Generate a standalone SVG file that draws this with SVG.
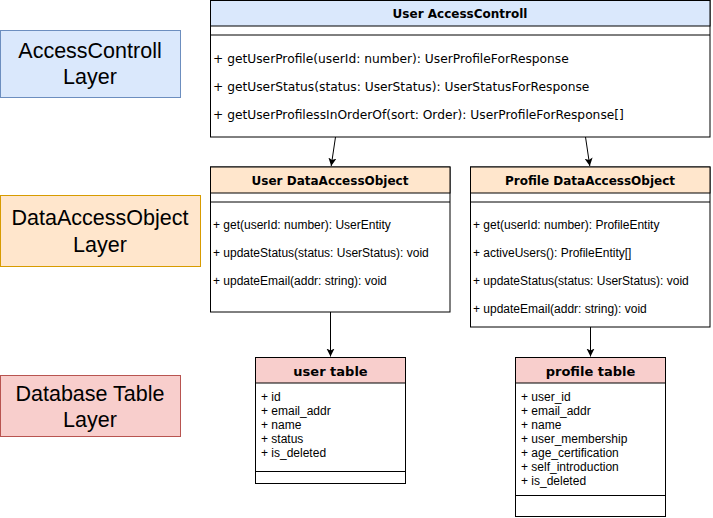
<svg xmlns="http://www.w3.org/2000/svg" width="713" height="518" viewBox="0 0 713 518">
<style>
.box{fill:#ffffff;stroke:#000000;stroke-width:1}
.ln{stroke:#000000;stroke-width:1;fill:none}
.hb{fill:#dae8fc;stroke:#000000;stroke-width:1}
.ho{fill:#ffe6cc;stroke:#000000;stroke-width:1}
.hr{fill:#f8cecc;stroke:#000000;stroke-width:1}
.ttl{font-family:"DejaVu Sans",Verdana,sans-serif;font-weight:bold;font-size:12px;fill:#000;text-anchor:middle}
.ttl13{font-family:"DejaVu Sans",Verdana,sans-serif;font-weight:bold;font-size:13px;fill:#000;text-anchor:middle}
.mv{font-family:"DejaVu Sans",Verdana,sans-serif;font-size:12.25px;fill:#000}
.mh{font-family:"Liberation Sans",Arial,sans-serif;font-size:12px;fill:#000}
.lay{font-family:"Liberation Sans",Arial,sans-serif;font-size:21.5px;fill:#000;text-anchor:middle}
.con{stroke:#000;stroke-width:1;fill:none;marker-end:url(#arr)}
</style>
<defs>
<marker id="arr" markerUnits="userSpaceOnUse" markerWidth="10" markerHeight="10" refX="8" refY="4" orient="auto">
<path d="M0,0 L8,4 L0,8 L2,4 z" fill="#000"/>
</marker>
</defs>
<rect width="713" height="518" fill="#ffffff"/>

<g id="layer-access">
<rect x="0.5" y="30.5" width="180" height="67" fill="#dae8fc" stroke="#6c8ebf"/>
<text class="lay" x="90" y="58">AccessControll</text>
<text class="lay" x="90" y="84">Layer</text>
</g>
<g id="layer-dao">
<rect x="0.5" y="195.5" width="200" height="71" fill="#ffe6cc" stroke="#d79b00"/>
<text class="lay" x="100" y="225">DataAccessObject</text>
<text class="lay" x="100" y="251.5">Layer</text>
</g>
<g id="layer-db">
<rect x="0.5" y="375.5" width="180" height="61" fill="#f8cecc" stroke="#b85450"/>
<text class="lay" x="90" y="400.5">Database Table</text>
<text class="lay" x="90" y="427">Layer</text>
</g>

<g id="user-accesscontroll">
<rect class="box" x="210.5" y="0.5" width="499.5" height="136.5"/>
<rect class="hb" x="210.5" y="0.5" width="499.5" height="25.5"/>
<line class="ln" x1="210.5" y1="35" x2="710" y2="35"/>
<text class="ttl" x="460" y="17.5">User AccessControll</text>
<text class="mv" x="213" y="63">+ getUserProfile(userId: number): UserProfileForResponse</text>
<text class="mv" x="213" y="91">+ getUserStatus(status: UserStatus): UserStatusForResponse</text>
<text class="mv" x="213" y="119">+ getUserProfilessInOrderOf(sort: Order): UserProfileForResponse[]</text>
</g>

<g id="user-dao">
<rect class="box" x="210.5" y="167" width="239.5" height="145"/>
<rect class="ho" x="210.5" y="167" width="239.5" height="26"/>
<line class="ln" x1="210.5" y1="202" x2="450" y2="202"/>
<text class="ttl" x="330" y="185">User DataAccessObject</text>
<text class="mh" x="213" y="228.5">+ get(userId: number): UserEntity</text>
<text class="mh" x="213" y="256.5">+ updateStatus(status: UserStatus): void</text>
<text class="mh" x="213" y="284.5">+ updateEmail(addr: string): void</text>
</g>

<g id="profile-dao">
<rect class="box" x="470.5" y="167" width="239.5" height="160"/>
<rect class="ho" x="470.5" y="167" width="239.5" height="26"/>
<line class="ln" x1="470.5" y1="202" x2="710" y2="202"/>
<text class="ttl" x="590" y="185">Profile DataAccessObject</text>
<text class="mh" x="473" y="228.5">+ get(userId: number): ProfileEntity</text>
<text class="mh" x="473" y="256.5">+ activeUsers(): ProfileEntity[]</text>
<text class="mh" x="473" y="284.5">+ updateStatus(status: UserStatus): void</text>
<text class="mh" x="473" y="312.5">+ updateEmail(addr: string): void</text>
</g>

<g id="user-table">
<rect class="box" x="255.5" y="357.5" width="150" height="126"/>
<rect class="hr" x="255.5" y="357.5" width="150" height="25.5"/>
<line class="ln" x1="255.5" y1="471.5" x2="405.5" y2="471.5"/>
<text class="ttl13" x="330.5" y="375.5">user table</text>
<text class="mh" x="261" y="401">+ id</text>
<text class="mh" x="261" y="415">+ email_addr</text>
<text class="mh" x="261" y="429">+ name</text>
<text class="mh" x="261" y="443">+ status</text>
<text class="mh" x="261" y="457">+ is_deleted</text>
</g>

<g id="profile-table">
<rect class="box" x="515.5" y="357.5" width="150" height="159"/>
<rect class="hr" x="515.5" y="357.5" width="150" height="25.5"/>
<line class="ln" x1="515.5" y1="495.5" x2="665.5" y2="495.5"/>
<text class="ttl13" x="590.5" y="375.5">profile table</text>
<text class="mh" x="521" y="401">+ user_id</text>
<text class="mh" x="521" y="415">+ email_addr</text>
<text class="mh" x="521" y="429">+ name</text>
<text class="mh" x="521" y="443">+ user_membership</text>
<text class="mh" x="521" y="457">+ age_certification</text>
<text class="mh" x="521" y="471">+ self_introduction</text>
<text class="mh" x="521" y="485">+ is_deleted</text>
</g>

<g id="connectors">
<line class="con" x1="335.5" y1="137" x2="331.2" y2="166"/>
<line class="con" x1="585.5" y1="137" x2="589.8" y2="166"/>
<line class="con" x1="330.5" y1="312" x2="330.5" y2="356.5"/>
<line class="con" x1="590.5" y1="327" x2="590.5" y2="356.5"/>
</g>
</svg>
